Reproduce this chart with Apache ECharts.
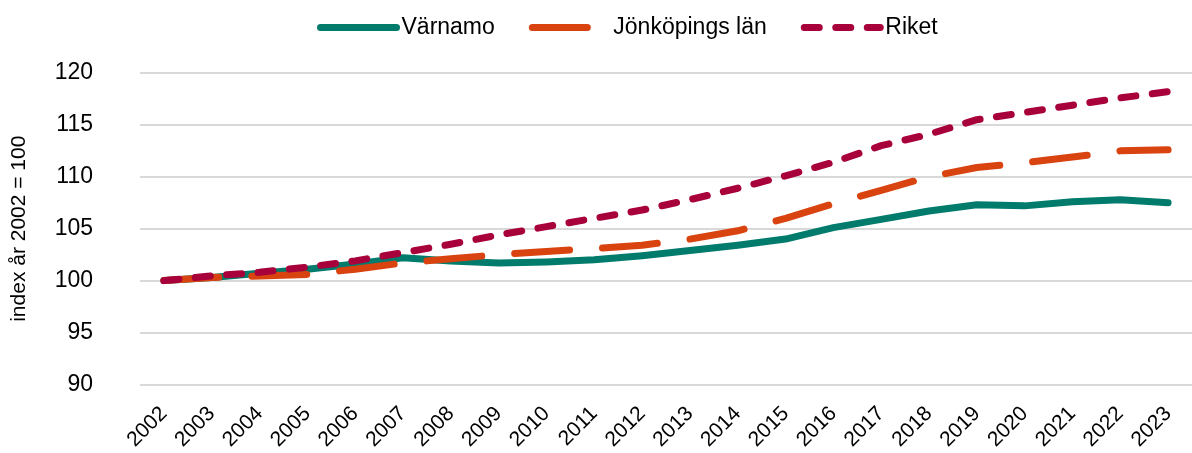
<!DOCTYPE html>
<html>
<head>
<meta charset="utf-8">
<title>Index år 2002 = 100</title>
<script src="https://cdn.jsdelivr.net/npm/echarts@6/dist/echarts.min.js"></script>
<style>
    html, body { margin: 0; padding: 0; background: #fff; }
    #chart { width: 1192px; height: 453px; }
</style>
</head>
<body>
<div id="chart"></div>
<script>
// år (kategorier)
var years = ['2002', '2003', '2004', '2005', '2006', '2007', '2008', '2009', '2010', '2011', '2012',
    '2013', '2014', '2015', '2016', '2017', '2018', '2019', '2020', '2021', '2022', '2023'];

// index, år 2002 = 100
var varnamo = [100.0, 100.3, 100.7, 101.1, 101.6, 102.2, 101.9, 101.7, 101.8, 102.0, 102.4,
    102.9, 103.4, 104.0, 105.1, 105.9, 106.7, 107.3, 107.2, 107.6, 107.8, 107.5];
var jonkopingsLan = [100.0, 100.3, 100.45, 100.6, 101.1, 101.7, 102.1, 102.5, 102.8, 103.1, 103.4,
    104.0, 104.8, 106.0, 107.4, 108.7, 110.0, 110.9, 111.35, 111.9, 112.5, 112.6];
var riket = [100.0, 100.45, 100.8, 101.3, 101.9, 102.7, 103.5, 104.4, 105.2, 106.0, 106.8,
    107.8, 108.9, 110.1, 111.4, 113.0, 114.1, 115.5, 116.2, 116.9, 117.6, 118.2];

var seriesNames = ['Värnamo', 'Jönköpings län', 'Riket'];
var yTicks = [90, 95, 100, 105, 110, 115, 120];

var FONT = '"Liberation Sans", Arial, sans-serif';
var colors = ['#007B6C', '#D9430F', '#A8003B'];
var dashes = ['solid', [55, 33], [15, 16.5]];
var LW = 7;

var chart = echarts.init(document.getElementById('chart'), null, { renderer: 'canvas' });

var seriesList = [varnamo, jonkopingsLan, riket].map(function (vals, i) {
    return {
        name: seriesNames[i],
        type: 'line',
        data: vals,
        symbol: 'none',
        smooth: false,
        z: 2 + i,
        lineStyle: { color: colors[i], width: LW, type: dashes[i], cap: 'round', join: 'round' },
        itemStyle: { color: colors[i] },
        emphasis: { disabled: true }
    };
});

var option = {
    animation: false,
    backgroundColor: '#ffffff',
    textStyle: { fontFamily: FONT },
    legend: {
        left: 317,
        top: 16,
        padding: 0,
        itemWidth: 76,
        itemHeight: 14,
        itemGap: 34,
        textStyle: { fontFamily: FONT, fontSize: 23, color: '#000' },
        data: seriesNames.map(function (n, i) {
            return {
                name: n,
                itemStyle: { opacity: 0 },
                lineStyle: { width: LW, color: colors[i], type: dashes[i], cap: 'round' }
            };
        })
    },
    grid: { left: 140, right: -11, top: 73, bottom: 68, containLabel: false },
    xAxis: {
        type: 'category',
        data: years,
        boundaryGap: true,
        axisLine: { show: false },
        axisTick: { show: false },
        axisLabel: {
            interval: 0,
            rotate: 45,
            margin: 26,
            fontFamily: FONT,
            fontSize: 21,
            color: '#000'
        }
    },
    yAxis: {
        type: 'value',
        min: yTicks[0],
        max: yTicks[yTicks.length - 1],
        interval: 5,
        name: 'index år 2002 = 100',
        nameLocation: 'middle',
        nameGap: 110,
        nameTextStyle: { fontFamily: FONT, fontSize: 21, color: '#000' },
        axisLine: { show: false },
        axisTick: { show: false },
        splitLine: { lineStyle: { color: '#D9D9D9', width: 2 } },
        axisLabel: { margin: 47, fontFamily: FONT, fontSize: 23, color: '#000' }
    },
    series: seriesList
};

chart.setOption(option);
</script>
</body>
</html>
